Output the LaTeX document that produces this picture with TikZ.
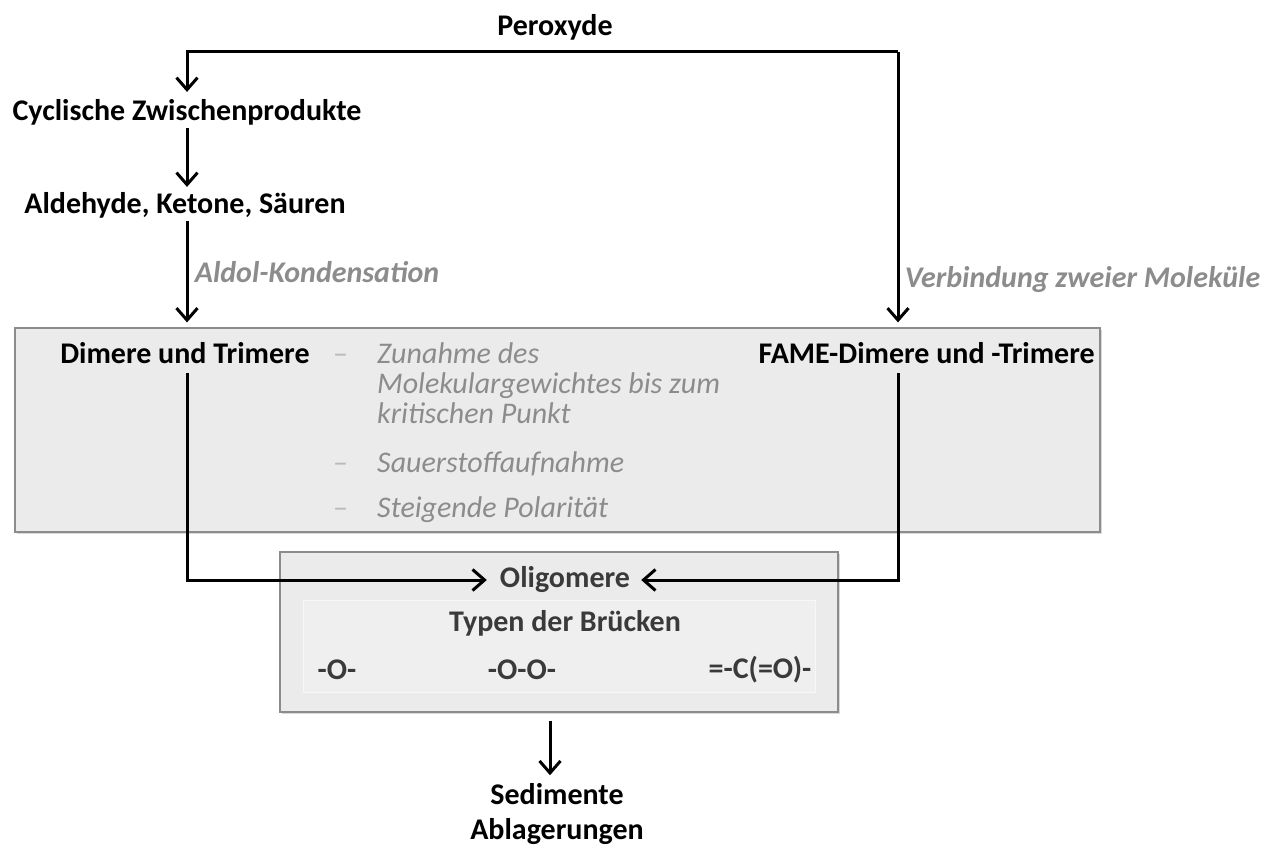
\documentclass[tikz,border=0pt]{standalone}
\usepackage{fontspec}
\setmainfont{Carlito}
\usetikzlibrary{shadows,arrows.meta}

\definecolor{notegray}{HTML}{8C8C8C}
\definecolor{boxgray}{HTML}{EBEBEB}
\definecolor{darktext}{HTML}{3A3A3A}

\begin{document}
\begin{tikzpicture}[x=1pt,y=-1pt,
  lbl/.style={font=\fontsize{30}{35}\selectfont\bfseries, inner sep=3pt},
  note/.style={font=\fontsize{30}{35}\selectfont\bfseries\itshape, text=notegray},
  item/.style={font=\fontsize{30}{35}\selectfont\itshape, text=notegray, anchor=base west, inner sep=0pt},
  dsh/.style={font=\fontsize{30}{35}\selectfont, text=notegray!60, anchor=base west, inner sep=0pt},
  panel/.style={draw=notegray, fill=boxgray, line width=1.2pt, drop shadow={opacity=0.3, shadow xshift=2pt, shadow yshift=-2pt}},
  arr/.style={->, >={Straight Barb[length=12pt,width=21pt]}, line width=3pt}]
  \useasboundingbox (0,0) rectangle (1275,845);

  % panels
  \node[panel, minimum width=1085, minimum height=204] (big) at (557.5,430) {};
  \node[panel, minimum width=558, minimum height=160] (small) at (559,632) {};
  \node[draw=white!60!boxgray, fill=white!20!boxgray, minimum width=512, minimum height=92] (inner) at (559,646) {};

  % top chain
  \node[lbl] (per) at (555,27) {Peroxyde};
  \node[lbl] (cyc) at (187,112) {Cyclische Zwischenprodukte};
  \node[lbl] (ald) at (185,205) {Aldehyde, Ketone, Säuren};
  \coordinate (tl) at (187,52);
  \coordinate (tr) at (898,52);

  % inside big panel
  \node[lbl] (dim) at (185,353) {Dimere und Trimere};
  \node[lbl, anchor=east] (fame) at (1098,353) {FAME-Dimere und -Trimere};
  \node[dsh] (d1) at (333,363) {--};
  \node[item] (i1) at (377,363) {Zunahme des};
  \node[item] (i2) at (377,393) {Molekulargewichtes bis zum};
  \node[item] (i3) at (377,423) {kritischen Punkt};
  \node[dsh] (d2) at (333,472) {--};
  \node[item] (i4) at (377,472) {Sauerstoffaufnahme};
  \node[dsh] (d3) at (333,517) {--};
  \node[item] (i5) at (377,517) {Steigende Polarität};

  % small panel
  \node[lbl, text=darktext] (oli) at (565,580) {Oligomere};
  \node[lbl, text=darktext] (typ) at (565,623) {Typen der Brücken};
  \node[lbl, text=darktext] (b1) at (337,670) {-O-};
  \node[lbl, text=darktext] (b2) at (522,670) {-O-O-};
  \node[lbl, text=darktext] (b3) at (760,670) {=-C(=O)-};

  \node[lbl, align=center] (sed) at (557,814) {Sedimente\\Ablagerungen};

  % connectors
  \draw[arr] (tr) -- (tl) -- ([yshift=4]tl |- cyc.north);
  \draw[arr] (tr) -- ([yshift=5]tr |- big.north) node[pos=0.84, right, note, xshift=2] {Verbindung zweier Moleküle};
  \draw[arr] (tl |- cyc.south) -- ([yshift=2]tl |- ald.north);
  \draw[arr] (tl |- ald.south) -- ([yshift=5]tl |- big.north) node[midway, right, note, xshift=3] {Aldol-Kondensation};
  \draw[arr] ([yshift=-6]tl |- dim.south) -- (tl |- oli) -- ([xshift=-10]oli.west);
  \draw[arr] ([yshift=-6]tr |- fame.south) -- (tr |- oli) -- ([xshift=8]oli.east);
  \draw[arr] ([xshift=-7,yshift=-8]sed.north |- small.south) -- ([xshift=-7,yshift=5]sed.north);
\end{tikzpicture}
\end{document}
